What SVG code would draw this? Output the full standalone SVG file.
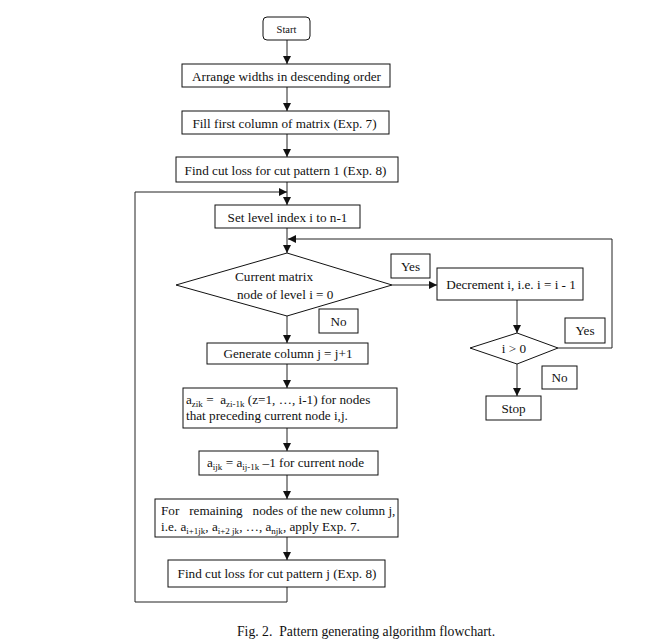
<svg xmlns="http://www.w3.org/2000/svg" width="654" height="641" viewBox="0 0 654 641">
<style>
.b{fill:#fff;stroke:#111;stroke-width:1}
.t{font-family:"Liberation Serif","Times New Roman",serif;font-size:13.2px;fill:#111}
.c{text-anchor:middle}
.s{font-size:9px}
.l{fill:none;stroke:#222;stroke-width:1}
</style>
<defs>
<marker id="a" viewBox="0 0 10 10" refX="10" refY="5" markerWidth="8" markerHeight="8" markerUnits="userSpaceOnUse" orient="auto">
<path d="M0,0L10,5L0,10z" fill="#111"/>
</marker>
</defs>
<rect width="654" height="641" fill="#fff"/>
<g id="connectors">
<line class="l" x1="287" y1="40" x2="287" y2="64" marker-end="url(#a)"/>
<line class="l" x1="287" y1="87" x2="287" y2="111" marker-end="url(#a)"/>
<line class="l" x1="287" y1="134" x2="287" y2="157" marker-end="url(#a)"/>
<line class="l" x1="287" y1="182" x2="287" y2="205" marker-end="url(#a)"/>
<polyline class="l" points="287,587 287,602 135,602 135,192 287,192" marker-end="url(#a)"/>
<line class="l" x1="287" y1="228" x2="287" y2="253" marker-end="url(#a)"/>
<polyline class="l" points="558,348 612,348 612,239 288,239" marker-end="url(#a)"/>
<line class="l" x1="392" y1="285" x2="437" y2="285" marker-end="url(#a)"/>
<line class="l" x1="517" y1="300" x2="517" y2="333" marker-end="url(#a)"/>
<line class="l" x1="517" y1="364" x2="517" y2="396" marker-end="url(#a)"/>
<line class="l" x1="287" y1="316" x2="287" y2="343" marker-end="url(#a)"/>
<line class="l" x1="287" y1="364" x2="287" y2="388" marker-end="url(#a)"/>
<line class="l" x1="287" y1="428" x2="287" y2="451" marker-end="url(#a)"/>
<line class="l" x1="287" y1="475" x2="287" y2="499" marker-end="url(#a)"/>
<line class="l" x1="287" y1="537" x2="287" y2="560" marker-end="url(#a)"/>
</g>
<g id="start">
<rect class="b" x="263" y="17" width="47" height="23" rx="4"/>
<text class="t c" x="286.5" y="32.5" style="font-size:10.5px">Start</text>
</g>
<g id="arrange">
<rect class="b" x="182" y="64" width="208" height="23"/>
<text class="t c" x="286.5" y="80.5">Arrange widths in descending order</text>
</g>
<g id="fill">
<rect class="b" x="182" y="111" width="207" height="23"/>
<text class="t c" x="284.5" y="127.5">Fill first column of matrix (Exp. 7)</text>
</g>
<g id="cutloss1">
<rect class="b" x="176" y="157" width="222" height="25"/>
<text class="t c" x="285.5" y="174.5">Find cut loss for cut pattern 1 (Exp. 8)</text>
</g>
<g id="setlevel">
<rect class="b" x="215" y="205" width="145" height="23"/>
<text class="t c" x="287.5" y="221.5">Set level index i to n-1</text>
</g>
<g id="decision1">
<polygon class="b" points="287,253 392,285 287,316 176,285"/>
<text class="t" x="235" y="280.5">Current matrix</text>
<text class="t" x="237" y="298.5">node of level i = 0</text>
</g>
<g id="yes1">
<rect class="b" x="391" y="254" width="39" height="24"/>
<text class="t c" x="410.5" y="270.5">Yes</text>
</g>
<g id="no1">
<rect class="b" x="319" y="309" width="39" height="24"/>
<text class="t c" x="338.5" y="325.5">No</text>
</g>
<g id="decrement">
<rect class="b" x="437" y="268" width="146" height="32"/>
<text class="t c" x="511" y="288.5">Decrement i, i.e. i = i - 1</text>
</g>
<g id="decision2">
<polygon class="b" points="517,333 558,348 517,364 470,348"/>
<text class="t c" x="514" y="352.5">i &gt; 0</text>
</g>
<g id="yes2">
<rect class="b" x="565" y="318" width="40" height="25"/>
<text class="t c" x="585" y="335">Yes</text>
</g>
<g id="no2">
<rect class="b" x="542" y="366" width="35" height="23"/>
<text class="t c" x="559.5" y="382">No</text>
</g>
<g id="stop">
<rect class="b" x="486" y="396" width="55" height="24"/>
<text class="t c" x="513.5" y="412.5">Stop</text>
</g>
<g id="generate">
<rect class="b" x="207" y="343" width="161" height="21"/>
<text class="t c" x="288" y="358">Generate column j = j+1</text>
</g>
<g id="azik">
<rect class="b" x="183" y="388" width="214" height="40"/>
<text class="t" x="186" y="404" xml:space="preserve">a<tspan class="s" dy="2.5">zik</tspan><tspan dy="-2.5"> =  a</tspan><tspan class="s" dy="2.5">zi-1k</tspan><tspan dy="-2.5"> (z=1, …, i-1) for nodes</tspan></text>
<text class="t" x="186" y="420">that preceding current node i,j.</text>
</g>
<g id="aijk">
<rect class="b" x="199" y="451" width="179" height="24"/>
<text class="t" x="207" y="467">a<tspan class="s" dy="2.5">ijk</tspan><tspan dy="-2.5"> = a</tspan><tspan class="s" dy="2.5">ij-1k</tspan><tspan dy="-2.5"> –1 for current node</tspan></text>
</g>
<g id="remaining">
<rect class="b" x="155" y="499" width="243" height="38"/>
<text class="t" x="161" y="515" xml:space="preserve">For   remaining   nodes of the new column j,</text>
<text class="t" x="161" y="531">i.e. a<tspan class="s" dy="2.5">i+1jk</tspan><tspan dy="-2.5">, a</tspan><tspan class="s" dy="2.5">i+2 jk</tspan><tspan dy="-2.5">, …, a</tspan><tspan class="s" dy="2.5">njk</tspan><tspan dy="-2.5">, apply Exp. 7.</tspan></text>
</g>
<g id="cutlossj">
<rect class="b" x="168" y="560" width="217" height="27"/>
<text class="t c" x="277" y="578">Find cut loss for cut pattern j (Exp. 8)</text>
</g>
<text class="t" x="237" y="636" style="font-size:13.7px" xml:space="preserve">Fig. 2.  Pattern generating algorithm flowchart.</text>
</svg>
